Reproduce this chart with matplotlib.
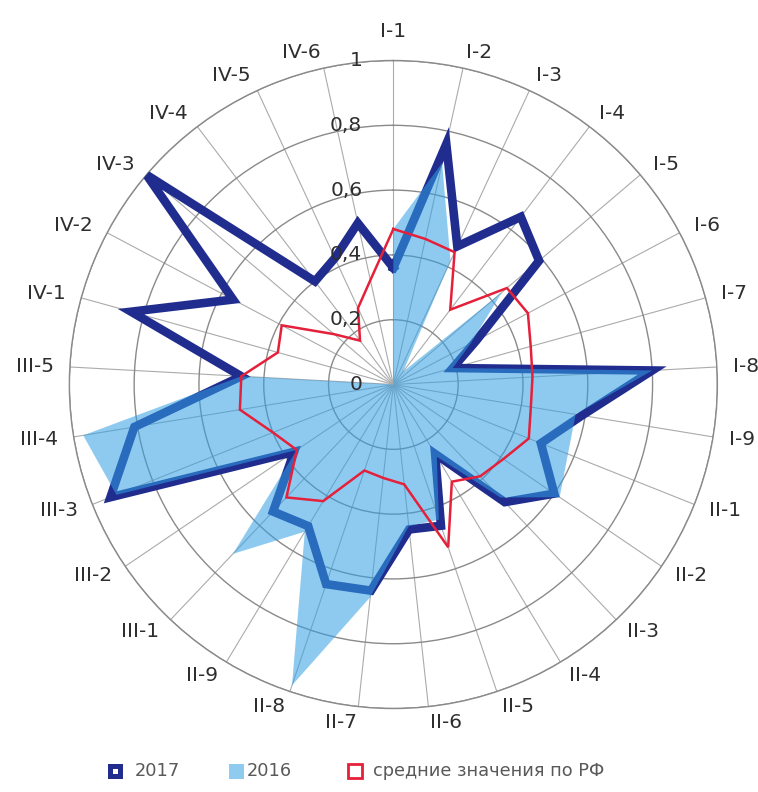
import numpy as np
import matplotlib
matplotlib.use('Agg')
import matplotlib.pyplot as plt
from matplotlib.lines import Line2D
from matplotlib.transforms import offset_copy

categories = ['I-1', 'I-2', 'I-3', 'I-4', 'I-5', 'I-6', 'I-7', 'I-8', 'I-9',
              'II-1', 'II-2', 'II-3', 'II-4', 'II-5', 'II-6', 'II-7', 'II-8', 'II-9',
              'III-1', 'III-2', 'III-3', 'III-4', 'III-5',
              'IV-1', 'IV-2', 'IV-3', 'IV-4', 'IV-5', 'IV-6']

v2017 = [0.36, 0.76, 0.47, 0.65, 0.59, 0.29, 0.19, 0.80, 0.59,
         0.49, 0.60, 0.50, 0.25, 0.46, 0.45, 0.64, 0.65, 0.51,
         0.54, 0.37, 0.94, 0.81, 0.47,
         0.84, 0.56, 1.00, 0.40, 0.43, 0.51]

v2016 = [0.48, 0.70, 0.42, 0.05, 0.44, 0.27, 0.19, 0.80, 0.57,
         0.58, 0.62, 0.48, 0.26, 0.44, 0.44, 0.66, 0.98, 0.53,
         0.72, 0.36, 0.92, 0.97, 0.47,
         0.0, 0.0, 0.0, 0.0, 0.0, 0.0]

avg_rf = [0.48, 0.46, 0.45, 0.29, 0.46, 0.47, 0.44, 0.43, 0.43,
          0.45, 0.41, 0.39, 0.35, 0.53, 0.31, 0.29, 0.28, 0.42,
          0.48, 0.36, 0.40, 0.48, 0.47,
          0.37, 0.39, 0.24, 0.17, 0.26, 0.33]

r_ticks = [0.0, 0.2, 0.4, 0.6, 0.8, 1.0]
r_tick_labels = ['0', '0,2', '0,4', '0,6', '0,8', '1']
legend_labels = ['2017', '2016', 'средние значения по РФ']

NAVY = '#202D8E'
FILL = '#32A0E4'
FILL_ON_WHITE = '#8ECBEF'
RED = '#E5203A'
TEXT = '#2e2e2e'

fig = plt.figure(figsize=(7.58, 7.92), dpi=100)
ax = fig.add_axes([0.0915, 0.1054, 0.8549, 0.8182], projection='polar')
ax.set_theta_zero_location('N')
ax.set_theta_direction(-1)

n = len(categories)
theta = np.arange(n) * 2 * np.pi / n
tc = np.append(theta, theta[0])

def closed(v):
    return np.append(np.asarray(v, float), v[0])

ax.set_ylim(0, 1)
ax.set_xticks(theta)
ax.set_xticklabels([])
ax.set_yticks(r_ticks[1:])
ax.set_yticklabels([])
ax.xaxis.grid(True, color='#ababab', lw=0.8)
ax.yaxis.grid(True, color='#8a8a8a', lw=1.0)
ax.spines['polar'].set_color('#8a8a8a')
ax.spines['polar'].set_linewidth(1.0)
ax.tick_params(length=0)

ax.plot(tc, closed(v2017), color=NAVY, lw=6.2, solid_joinstyle='miter', zorder=3)
ax.fill(tc, closed(v2016), color=FILL, alpha=0.55, lw=0, zorder=4)
ax.plot(tc, closed(avg_rf), color=RED, lw=1.8, solid_joinstyle='miter', zorder=5)

# radial labels
trans = offset_copy(ax.transData, fig=fig, x=-31, y=0, units='dots')
for r, lab in zip(r_ticks, r_tick_labels):
    ax.text(0, r, lab, transform=trans, ha='right', va='center',
            fontsize=14.5, color=TEXT, zorder=6)

# category labels positioned outside the outer ring (Excel-like placement)
fig.canvas.draw()
renderer = fig.canvas.get_renderer()
cx, cy = ax.transData.transform((0, 0))
ex, ey = ax.transData.transform((0, 1))
R = np.hypot(ex - cx, ey - cy)
W, H = fig.bbox.width, fig.bbox.height
D = R + 16
for t, lab in zip(theta, categories):
    txt = fig.text(0, 0, lab, ha='center', va='center', fontsize=14.5, color=TEXT)
    bb = txt.get_window_extent(renderer)
    w, h = bb.width, bb.height
    s, c = np.sin(t), np.cos(t)
    ax_x = cx + D * s
    ax_y = cy + D * c
    if abs(s) > 0.05:
        px = ax_x + np.sign(s) * w / 2
        py = ax_y
    else:
        px = ax_x
        py = ax_y + np.sign(c) * (h / 2 + 4)
    txt.set_position((px / W, py / H))

# legend drawn manually (pixel positions from top-left)
leg_y = 771
leg_items = [
    dict(mx=114.5, tx=135, kw=dict(marker='s', ms=7.4, mfc='white', mec=NAVY, mew=3.6)),
    dict(mx=235.5, tx=247, kw=dict(marker='s', ms=10.8, mfc=FILL_ON_WHITE, mec=FILL_ON_WHITE, mew=0)),
    dict(mx=355.0, tx=373, kw=dict(marker='s', ms=10.6, mfc='white', mec=RED, mew=2.0)),
]
yf = (H - leg_y) / H
for item, lab in zip(leg_items, legend_labels):
    fig.add_artist(Line2D([item['mx'] / W], [yf], ls='none',
                          transform=fig.transFigure, **item['kw']))
    fig.text(item['tx'] / W, yf, lab, ha='left', va='center',
             fontsize=12.8, color='#595959')

fig.savefig('out.png', dpi=100)
